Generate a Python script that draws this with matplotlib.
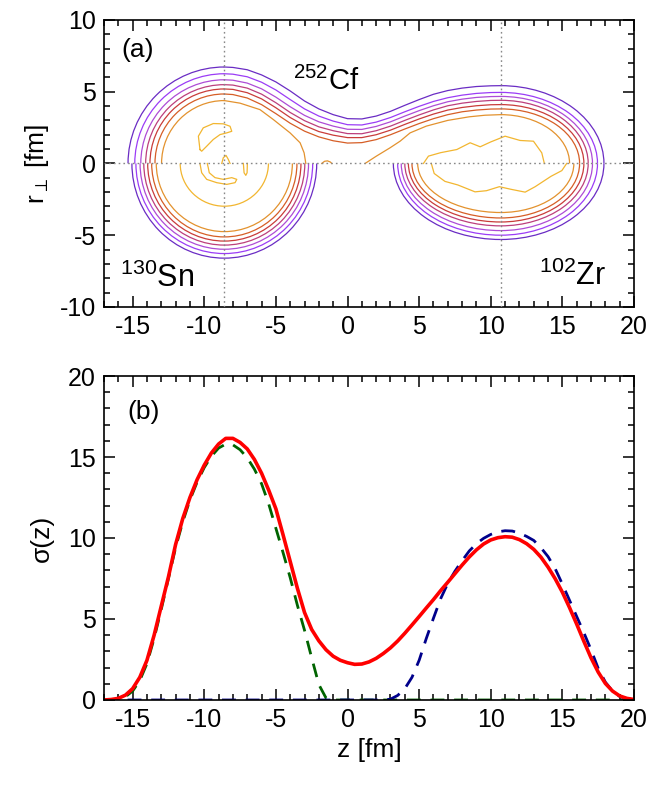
# plot.py
# density contours of 252Cf at scission (a) and the axial density sigma(z) (b)
import numpy as np
import matplotlib.pyplot as plt
from matplotlib.patches import Arc

plt.rcParams['font.family'] = ['Liberation Sans', 'DejaVu Sans']
plt.rcParams['mathtext.fontset'] = 'custom'
plt.rcParams['mathtext.rm'] = 'Liberation Sans'
plt.rcParams['mathtext.it'] = 'Liberation Sans:italic'
plt.rcParams['mathtext.default'] = 'regular'
plt.rcParams['axes.unicode_minus'] = False

# ---------------- panel (a): contour lines ----------------
# fragment centres (dotted lines)
z_sn = -8.6
z_zr = 10.7

# colours of the 7 outer contour levels (outer -> inner) and the innermost level
level_colors = ['#6a2cc4', '#9b3cf6', '#ae4cd6', '#bc3f7c', '#c93c3a', '#d65e26', '#e3922e']
inner_color = '#f2b630'

# upper half (252Cf): left lobe radius, right lobe half-axes
cf_left_R = [6.72, 6.25, 5.83, 5.49, 5.19, 4.84]
cf_right_a = [7.2, 6.75, 6.4, 6.1, 5.8, 5.5]
cf_right_b = [5.42, 4.95, 4.67, 4.4, 4.1, 3.8]
# neck profile r(z) between the two lobe tops
neck_z = [-8.6, -8, -7, -6, -5, -4, -3, -2, -1, 0, 1, 2, 3, 4, 5, 6, 7, 8, 9, 10, 10.7]
neck_r = [
    [6.72, 6.69, 6.53, 6.17, 5.68, 5.05, 4.35, 3.80, 3.40, 3.12, 3.10, 3.30, 3.63, 4.05, 4.45, 4.82, 5.08, 5.25, 5.36, 5.41, 5.42],
    [6.25, 6.22, 6.04, 5.66, 5.12, 4.45, 3.80, 3.30, 2.95, 2.70, 2.68, 2.88, 3.20, 3.60, 3.98, 4.32, 4.58, 4.76, 4.88, 4.94, 4.95],
    [5.83, 5.80, 5.60, 5.20, 4.62, 3.95, 3.35, 2.90, 2.60, 2.38, 2.37, 2.58, 2.90, 3.30, 3.68, 4.02, 4.30, 4.48, 4.60, 4.66, 4.67],
    [5.49, 5.46, 5.25, 4.83, 4.23, 3.55, 2.98, 2.55, 2.28, 2.08, 2.07, 2.28, 2.60, 3.00, 3.38, 3.73, 4.02, 4.20, 4.32, 4.39, 4.40],
    [5.19, 5.16, 4.93, 4.50, 3.88, 3.20, 2.64, 2.22, 1.97, 1.80, 1.80, 2.00, 2.32, 2.72, 3.10, 3.44, 3.72, 3.90, 4.02, 4.09, 4.10],
    [4.84, 4.80, 4.56, 4.10, 3.47, 2.80, 2.25, 1.85, 1.58, 1.42, 1.45, 1.66, 2.00, 2.40, 2.78, 3.12, 3.40, 3.60, 3.72, 3.79, 3.80],
]
# level 7 of 252Cf splits into two pieces
cf7_left_R = 4.38
cf7_left_z = [-8.6, -7.5, -6.11, -5.18, -4.01, -3.31, -3.03, -2.91]
cf7_left_r = [4.38, 4.2, 3.75, 3.06, 2.13, 1.44, 0.74, 0.0]
cf7_right_z = [1.23, 2.0, 2.97, 3.67, 4.37, 5.5, 7.0, 8.5, 9.6, 10.7]
cf7_right_r = [0.0, 0.5, 1.09, 1.55, 2.13, 2.6, 3.0, 3.25, 3.36, 3.4]
cf7_right_a = 4.8
cf7_right_b = 3.4
# small orange island near the neck
isl_z = [-1.8, -1.6, -1.4, -1.2, -1.1]
isl_r = [0.0, 0.15, 0.18, 0.1, 0.0]
# innermost contours of 252Cf
cres_z = [-10.3, -10.41, -10.07, -9.37, -8.67, -8.2, -8.08, -8.43, -8.9, -9.37, -9.83, -10.18, -10.3]
cres_r = [0.97, 1.9, 2.48, 2.78, 2.76, 2.59, 2.24, 2.13, 2.01, 1.67, 1.2, 0.85, 0.97]
bump_z = [-8.78, -8.67, -8.48, -8.32, -8.2]
bump_r = [0.0, 0.4, 0.56, 0.28, 0.0]
cfzr_in_z = [5.3, 5.65, 6.5, 7.63, 8.56, 9.26, 10.0, 11.0, 12.05, 12.98, 13.56, 13.74]
cfzr_in_r = [0.0, 0.51, 0.75, 0.97, 1.44, 1.16, 1.5, 1.9, 1.6, 1.55, 0.74, 0.0]

# lower half, 130Sn: half-axes of each level
sn_a = [6.45, 6.17, 5.88, 5.62, 5.35, 5.07, 4.75]
sn_b = [6.6, 6.28, 5.98, 5.69, 5.41, 5.12, 4.75]
sn_in_a = 3.08
sn_in_b = 2.98
shoe_z = [-10.3, -10.18, -9.83, -9.13, -8.43, -7.85, -7.73, -8.08, -8.67, -9.25, -9.65, -9.72, -9.79]
shoe_r = [0.0, -0.65, -1.11, -1.34, -1.46, -1.34, -1.11, -0.99, -1.11, -0.99, -0.65, -0.3, 0.0]
finger_z = [-7.27, -7.22, -7.1, -7.01, -6.99]
finger_r = [0.0, -0.65, -0.83, -0.65, 0.0]

# lower half, 102Zr: left / right half-axes and depth
zr_a_left = [7.5, 7.2, 6.95, 6.7, 6.45, 6.2, 5.8]
zr_a_right = [7.2, 6.75, 6.4, 6.1, 5.8, 5.5, 5.1]
zr_b = [5.3, 5.0, 4.68, 4.35, 4.08, 3.8, 3.42]
zr_in_z = [5.85, 6.05, 6.8, 7.7, 8.9, 9.7, 10.6, 11.4, 12.4, 13.1, 14.2, 14.96, 15.3]
zr_in_r = [0.0, -0.7, -1.25, -1.5, -1.98, -1.9, -1.62, -1.8, -2.0, -1.62, -0.9, -0.5, 0.0]

# ---------------- panel (b): sigma(z) ----------------
z_vals = [-17, -16.5, -16, -15.5, -15, -14.5, -14, -13.5, -13, -12.5, -12, -11.5, -11, -10.5, -10,
          -9.5, -9, -8.5, -8, -7.5, -7, -6.5, -6, -5.5, -5, -4.5, -4, -3.5, -3, -2.5, -2, -1.5,
          -1, -0.5, 0, 0.5, 1, 1.5, 2, 2.5, 3, 3.5, 4, 4.5, 5, 5.5, 6, 6.5, 7, 7.5, 8, 8.5, 9,
          9.5, 10, 10.5, 11, 11.5, 12, 12.5, 13, 13.5, 14, 14.5, 15, 15.5, 16, 16.5, 17, 17.5,
          18, 18.5, 19, 19.5, 20]
sigma_cf = [0.0, 0.03, 0.1, 0.3, 0.7, 1.4, 2.45, 4.0, 5.8, 7.6, 9.6, 11.2, 12.5, 13.6, 14.5,
            15.25, 15.8, 16.15, 16.15, 15.9, 15.5, 14.85, 14.0, 12.95, 11.8, 10.2, 8.55, 6.9, 5.4,
            4.35, 3.65, 3.1, 2.7, 2.45, 2.3, 2.2, 2.22, 2.35, 2.57, 2.87, 3.22, 3.64, 4.12, 4.63,
            5.15, 5.68, 6.2, 6.75, 7.27, 7.8, 8.33, 8.83, 9.27, 9.63, 9.88, 10.02, 10.08, 10.05, 9.9,
            9.65, 9.3, 8.82, 8.2, 7.48, 6.65, 5.7, 4.68, 3.62, 2.6, 1.72, 1.02, 0.55, 0.25, 0.1, 0.03]
sigma_sn = [0.0, 0.0, 0.03, 0.2, 0.55, 1.2, 2.25, 3.8, 5.6, 7.5, 9.4, 11.0, 12.35, 13.45, 14.35,
            15.05, 15.55, 15.8, 15.75, 15.45, 14.95, 14.25, 13.35, 12.1, 10.6, 9.1, 7.55, 5.85, 4.3,
            2.6, 0.95, 0.12, 0.0, 0, 0, 0, 0, 0, 0, 0, 0, 0, 0, 0, 0, 0, 0, 0, 0, 0, 0, 0, 0, 0,
            0, 0, 0, 0, 0, 0, 0, 0, 0, 0, 0, 0, 0, 0, 0, 0, 0, 0, 0, 0, 0]
sigma_zr = [0, 0, 0, 0, 0, 0, 0, 0, 0, 0, 0, 0, 0, 0, 0, 0, 0, 0, 0, 0, 0, 0, 0, 0, 0, 0, 0, 0, 0,
            0, 0, 0, 0, 0, 0, 0, 0, 0, 0, 0, 0.05, 0.28, 0.7, 1.4, 2.45, 3.8, 5.05, 6.25, 7.2, 7.95,
            8.6, 9.2, 9.65, 9.98, 10.22, 10.38, 10.45, 10.43, 10.3, 10.1, 9.85, 9.4, 8.85, 8.1, 7.15,
            6.15, 5.15, 4.15, 3.1, 1.95, 1.1, 0.55, 0.22, 0.08, 0.02]

fig = plt.figure(figsize=(6.56, 7.85), dpi=100)
ax1 = fig.add_axes([0.1585, 0.609, 0.808, 0.3656])
ax2 = fig.add_axes([0.1585, 0.1083, 0.808, 0.4127])

lw = 0.9

# upper half
for k in range(6):
    c = level_colors[k]
    R = cf_left_R[k]
    ax1.add_patch(Arc((z_sn, 0), 2 * R, 2 * R, theta1=90, theta2=180, color=c, lw=lw))
    ax1.plot(neck_z, neck_r[k], color=c, lw=lw)
    ax1.add_patch(Arc((z_zr, 0), 2 * cf_right_a[k], 2 * cf_right_b[k], theta1=0, theta2=90, color=c, lw=lw))
c7 = level_colors[6]
ax1.add_patch(Arc((z_sn, 0), 2 * cf7_left_R, 2 * cf7_left_R, theta1=90, theta2=180, color=c7, lw=lw))
ax1.plot(cf7_left_z, cf7_left_r, color=c7, lw=lw)
ax1.plot(cf7_right_z, cf7_right_r, color=c7, lw=lw)
ax1.add_patch(Arc((z_zr, 0), 2 * cf7_right_a, 2 * cf7_right_b, theta1=0, theta2=90, color=c7, lw=lw))
ax1.plot(isl_z, isl_r, color=c7, lw=lw)
ax1.plot(cres_z, cres_r, color=inner_color, lw=lw)
ax1.plot(bump_z, bump_r, color=inner_color, lw=lw)
ax1.plot(cfzr_in_z, cfzr_in_r, color=inner_color, lw=lw)

# lower half
for k in range(7):
    c = level_colors[k]
    ax1.add_patch(Arc((z_sn, 0), 2 * sn_a[k], 2 * sn_b[k], theta1=180, theta2=360, color=c, lw=lw))
    ax1.add_patch(Arc((z_zr, 0), 2 * zr_a_left[k], 2 * zr_b[k], theta1=180, theta2=270, color=c, lw=lw))
    ax1.add_patch(Arc((z_zr, 0), 2 * zr_a_right[k], 2 * zr_b[k], theta1=270, theta2=360, color=c, lw=lw))
ax1.add_patch(Arc((z_sn, 0), 2 * sn_in_a, 2 * sn_in_b, theta1=180, theta2=360, color=inner_color, lw=lw))
ax1.plot(shoe_z, shoe_r, color=inner_color, lw=lw)
ax1.plot(finger_z, finger_r, color=inner_color, lw=lw)
ax1.plot(zr_in_z, zr_in_r, color=inner_color, lw=lw)

# dotted guides
ax1.axhline(0, color='#888888', lw=1, ls=(0, (1.2, 2.2)), zorder=3)
ax1.axvline(z_sn, color='#888888', lw=1, ls=(0, (1.2, 2.2)), zorder=3)
ax1.axvline(z_zr, color='#888888', lw=1, ls=(0, (1.2, 2.2)), zorder=3)

ax1.set_xlim(-17, 20)
ax1.set_ylim(-10, 10)
ax1.set_ylabel(r'r$_{\perp}$ [fm]', fontsize=19, labelpad=6)
ax1.text(-15.8, 7.9, '(a)', fontsize=19, va='center')
ax1.text(-3.8, 5.1, r'$^{252}$Cf', fontsize=21, va='baseline')
ax1.text(-15.9, -8.6, r'$^{130}$Sn', fontsize=22, va='baseline')
ax1.text(13.4, -8.5, r'$^{102}$Zr', fontsize=22, va='baseline')

# panel (b)
ax2.plot(z_vals, sigma_sn, color='#006400', lw=2, ls=(0, (5, 3.5)))
ax2.plot(z_vals, sigma_zr, color='#00008b', lw=2, ls=(0, (5, 3.5)))
ax2.plot(z_vals, sigma_cf, color='#ff0000', lw=2.6)
ax2.set_xlim(-17, 20)
ax2.set_ylim(0, 20)
ax2.set_xlabel('z [fm]', fontsize=19)
ax2.set_ylabel('σ(z)', fontsize=19, labelpad=10)
ax2.text(-15.4, 17.8, '(b)', fontsize=19, va='center')

for ax in (ax1, ax2):
    ax.set_xticks(np.arange(-15, 21, 5))
    ax.set_xticks(np.arange(-17, 21, 1), minor=True)
    ax.tick_params(which='both', direction='in', top=True, right=True, labelsize=18, width=1.1)
    ax.tick_params(which='major', length=8, pad=6)
    ax.tick_params(which='minor', length=4)
    for s in ax.spines.values():
        s.set_linewidth(1.2)
ax1.set_yticks(np.arange(-10, 11, 5))
ax1.set_yticks(np.arange(-10, 11, 1), minor=True)
ax2.set_yticks(np.arange(0, 21, 5))
ax2.set_yticks(np.arange(0, 21, 1), minor=True)

fig.savefig('out.png', dpi=100)
